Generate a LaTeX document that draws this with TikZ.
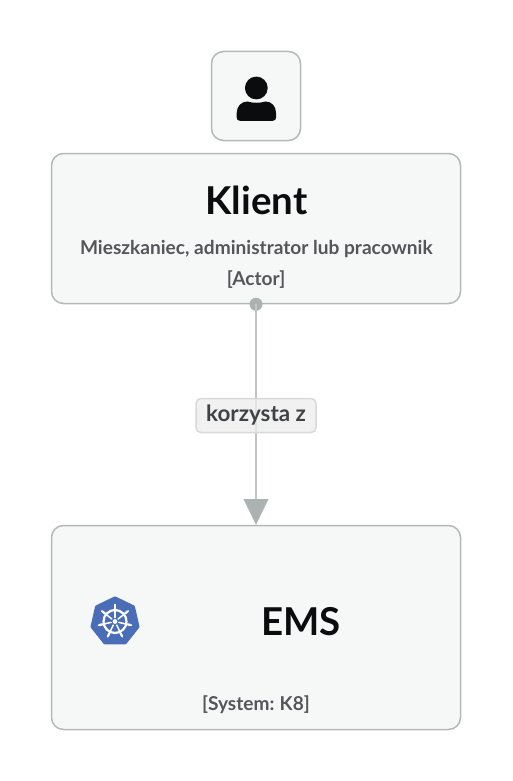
\documentclass[tikz,border=0pt]{standalone}
\usepackage{fontspec}
\setmainfont{Lato}
\definecolor{edgeC}{HTML}{B4B9B8}
\definecolor{fillC}{HTML}{F6F8F8}
\definecolor{lineC}{HTML}{C0C5C5}
\definecolor{tipC}{HTML}{ACB2B1}
\definecolor{txtC}{HTML}{0A0C0E}
\definecolor{subC}{HTML}{53575A}
\definecolor{labC}{HTML}{3F4346}
\definecolor{kubeC}{HTML}{4A6DB8}
\tikzset{
  card/.style={draw=edgeC,fill=fillC,line width=1.5pt,rounded corners=12pt,inner sep=0pt},
  titletext/.style={font=\bfseries\fontsize{38.4}{38}\selectfont,text=txtC,inner sep=0pt},
  emstext/.style={font=\bfseries\fontsize{38.4}{38}\selectfont,text=txtC,inner sep=0pt},
  subtext/.style={font=\bfseries\fontsize{19.1}{19}\selectfont,text=subC,inner sep=0pt},
  pill/.style={draw=gray!30,fill=gray!14,fill opacity=.75,text opacity=1,line width=1.5pt,rounded corners=5pt,inner sep=0pt,
    font=\bfseries\fontsize{22.4}{22}\selectfont,text=labC,minimum width=120pt,minimum height=34pt},
  link/.style={draw=lineC,line width=2pt},
  wheel/.style={draw=white,line width=2.2pt}
}
\begin{document}
\begin{tikzpicture}[x=1pt,y=-1pt]
\useasboundingbox (0,0) rectangle (512,781);
\fill[white] (0,0) rectangle (512,781);
\node[card,minimum width=89pt,minimum height=89pt] (icon) at (256,96) {};
\node[card,minimum width=409pt,minimum height=150pt] (klient) at (256,228.5) {};
\node[card,minimum width=409pt,minimum height=204pt] (ems) at (256,627.5) {};
% person
\fill[txtC] (256.3,88) circle (11.4pt);
\fill[txtC] (240,120.8) .. controls (237.8,120.8) and (236.7,119.5) .. (236.7,117.5)
  -- (236.7,113) .. controls (236.7,106) and (241.5,101.5) .. (247.5,101.5)
  .. controls (252.5,103.2) and (260.5,103.2) .. (265.5,101.5)
  .. controls (271.5,101.5) and (276,106) .. (276,113) -- (276,117.5)
  .. controls (276,119.5) and (275,120.8) .. (272.8,120.8) -- cycle;
\node[titletext] (ktitle) at (256.5,200) {Klient};
\node[subtext] (ksub) at (256.3,249) {Mieszkaniec, administrator lub pracownik};
\node[subtext] (ktype) at (256,280) {[Actor]};
\node[emstext] (emstitle) at (301,622) {EMS};
\node[subtext] (etype) at (256,705) {[System:\kern-1pt{} K8]};
\coordinate (start) at (klient.south);
\fill[tipC] (start) circle (6.5pt);
\coordinate (tipbase) at (256,499);
\draw[link] (start) -- (tipbase);
\fill[tipC] (243.5,499) -- (268.5,499) -- (ems.north) -- cycle;
\node[pill] (lab) at (256,415.5) {\raisebox{-2pt}{korzysta z}};
% kubernetes icon
\begin{scope}[shift={(115,621.5)}]
\fill[kubeC,draw=kubeC,line width=3pt,line join=round]
  (90:-23.6) -- (90+51.43:-23.6) -- (90+102.86:-23.6) -- (90+154.29:-23.6) -- (90+205.71:-23.6) -- (90+257.14:-23.6) -- (90+308.57:-23.6) -- cycle;
\draw[wheel] (0,0) circle (11.5pt);
\fill[white] (0,0) circle (2.4pt);
\foreach \a in {90,141.43,192.86,244.29,295.71,347.14,398.57}{
  \draw[white,line width=1.5pt,line cap=round] (\a:-4) -- (\a:-17);
  \draw[white,line width=2.2pt,line cap=round] (\a:-13) -- (\a:-16);
}
\end{scope}
\end{tikzpicture}
\end{document}
